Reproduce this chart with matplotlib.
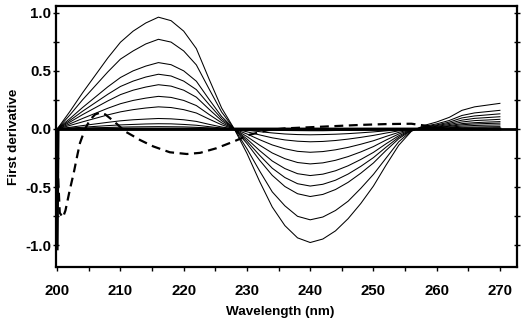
import numpy as np
import matplotlib
matplotlib.use("Agg")
import matplotlib.pyplot as plt
from matplotlib.ticker import MultipleLocator

plt.rcParams["font.family"] = ["Liberation Sans", "DejaVu Sans"]
plt.rcParams["axes.unicode_minus"] = False

# wavelengths of the solid spectra (nm)
wl = np.arange(200, 271, 2)

# first-derivative spectra (largest first)
spectra = [
    [0, 0.15, 0.31, 0.46, 0.61, 0.745, 0.84, 0.91, 0.96, 0.93, 0.84, 0.69, 0.43, 0.18, 0,
     -0.21, -0.45, -0.67, -0.83, -0.935, -0.975, -0.945, -0.875, -0.77, -0.64, -0.49, -0.31, -0.14, -0.02,
     0.03, 0.06, 0.10, 0.16, 0.19, 0.205, 0.22],
    [0, 0.12, 0.25, 0.37, 0.49, 0.60, 0.67, 0.73, 0.77, 0.746, 0.67, 0.55, 0.345, 0.145, 0,
     -0.17, -0.36, -0.54, -0.66, -0.75, -0.78, -0.756, -0.70, -0.62, -0.51, -0.39, -0.25, -0.11, -0.016,
     0.022, 0.044, 0.073, 0.116, 0.138, 0.149, 0.16],
    [0, 0.089, 0.184, 0.273, 0.362, 0.442, 0.499, 0.54, 0.57, 0.552, 0.499, 0.41, 0.255, 0.107, 0,
     -0.125, -0.268, -0.398, -0.494, -0.556, -0.58, -0.562, -0.52, -0.458, -0.38, -0.292, -0.184, -0.084, -0.012,
     0.018, 0.035, 0.059, 0.095, 0.112, 0.121, 0.13],
    [0, 0.073, 0.152, 0.225, 0.298, 0.365, 0.411, 0.446, 0.47, 0.455, 0.411, 0.338, 0.211, 0.088, 0,
     -0.105, -0.226, -0.337, -0.417, -0.47, -0.49, -0.475, -0.44, -0.387, -0.321, -0.246, -0.156, -0.071, -0.01,
     0.014, 0.029, 0.048, 0.076, 0.091, 0.098, 0.105],
    [0, 0.059, 0.123, 0.182, 0.241, 0.295, 0.333, 0.36, 0.38, 0.368, 0.333, 0.273, 0.17, 0.071, 0,
     -0.086, -0.185, -0.275, -0.34, -0.384, -0.40, -0.388, -0.359, -0.316, -0.262, -0.201, -0.127, -0.058, -0.008,
     0.011, 0.023, 0.038, 0.06, 0.072, 0.077, 0.083],
    [0, 0.044, 0.09, 0.134, 0.178, 0.217, 0.245, 0.265, 0.28, 0.271, 0.245, 0.201, 0.125, 0.053, 0,
     -0.065, -0.139, -0.206, -0.255, -0.288, -0.30, -0.291, -0.269, -0.237, -0.197, -0.151, -0.095, -0.043, -0.006,
     0.009, 0.017, 0.029, 0.046, 0.054, 0.059, 0.063],
    [0, 0.03, 0.061, 0.091, 0.121, 0.147, 0.166, 0.18, 0.19, 0.184, 0.166, 0.137, 0.085, 0.036, 0,
     -0.043, -0.092, -0.137, -0.17, -0.192, -0.20, -0.194, -0.179, -0.158, -0.131, -0.101, -0.064, -0.029, -0.004,
     0.007, 0.014, 0.023, 0.036, 0.043, 0.047, 0.05],
    [0, 0.014, 0.029, 0.043, 0.057, 0.07, 0.079, 0.085, 0.09, 0.087, 0.079, 0.065, 0.04, 0.017, 0,
     -0.024, -0.051, -0.076, -0.094, -0.105, -0.11, -0.107, -0.099, -0.087, -0.072, -0.055, -0.035, -0.016, -0.002,
     0.005, 0.01, 0.016, 0.025, 0.03, 0.033, 0.035],
    [0, 0.007, 0.015, 0.022, 0.029, 0.035, 0.039, 0.043, 0.045, 0.044, 0.039, 0.032, 0.02, 0.008, 0,
     -0.011, -0.023, -0.034, -0.043, -0.048, -0.05, -0.048, -0.045, -0.04, -0.033, -0.025, -0.016, -0.007, -0.001,
     0.003, 0.005, 0.009, 0.015, 0.017, 0.019, 0.02],
    [0, 0.003, 0.006, 0.01, 0.013, 0.016, 0.018, 0.019, 0.02, 0.019, 0.018, 0.014, 0.009, 0.004, 0,
     -0.003, -0.007, -0.01, -0.013, -0.014, -0.015, -0.015, -0.013, -0.012, -0.01, -0.008, -0.005, -0.002, 0,
     0.001, 0.003, 0.005, 0.007, 0.009, 0.009, 0.01],
]

# baseline spectrum (drops at the very start)
base_wl = [200.0, 200.15, 270.0]
base_val = [-1.03, 0.0, 0.0]

# dashed spectrum
dash_wl = [200.05, 200.4, 200.9, 201.3, 202.0, 202.6, 203.2, 203.6, 204.4, 205.2, 206.0, 206.8,
           207.6, 208.4, 209.5, 210.7, 212.0, 213.1, 215.2, 217.8, 220.5, 222.6, 225.2, 227.8,
           230.4, 233.3, 236, 240, 244, 248, 252, 256, 258, 260, 265, 270]
dash_val = [-0.3, -0.72, -0.76, -0.70, -0.52, -0.38, -0.22, -0.12, 0.0, 0.08, 0.125, 0.14,
            0.125, 0.09, 0.04, -0.02, -0.06, -0.095, -0.15, -0.2, -0.215, -0.205, -0.165, -0.11,
            -0.05, -0.01, 0.005, 0.015, 0.025, 0.035, 0.042, 0.045, 0.03, 0.01, 0.0, 0.0]

fig = plt.figure(figsize=(5.23, 3.24), dpi=100)
ax = fig.add_axes([0.107, 0.176, 0.8815, 0.8055])

for s in spectra:
    ax.plot(wl, s, color="black", lw=0.75)
ax.axhline(0, color="black", lw=2)
ax.plot(base_wl, base_val, color="black", lw=2)
ax.plot(dash_wl, dash_val, color="black", lw=1.6, linestyle=(0, (4, 2.5)))

ax.set_xlim(199.8, 272.7)
ax.set_ylim(-1.185, 1.056)

ax.xaxis.set_major_locator(MultipleLocator(10))
ax.xaxis.set_minor_locator(MultipleLocator(5))
ax.yaxis.set_major_locator(MultipleLocator(0.5))
ax.yaxis.set_minor_locator(MultipleLocator(0.25))
ax.yaxis.set_major_formatter(plt.FormatStrFormatter("%.1f"))

ax.tick_params(axis="x", which="both", direction="out", length=3, width=1, pad=9,
               labelsize=10.8)
ax.tick_params(axis="y", which="both", direction="inout", length=4, width=1, pad=1.5,
               labelsize=10.8, right=True)
for lab in ax.get_xticklabels() + ax.get_yticklabels():
    lab.set_fontweight("bold")

for sp in ax.spines.values():
    sp.set_linewidth(1.6)

ax.set_xlabel("Wavelength (nm)", fontsize=9.7, fontweight="bold")
ax.set_ylabel("First derivative", fontsize=9.7, fontweight="bold")
ax.xaxis.set_label_coords(0.486, -0.149)
ax.yaxis.set_label_coords(-0.078, 0.5)

fig.savefig("out.png", dpi=100)
